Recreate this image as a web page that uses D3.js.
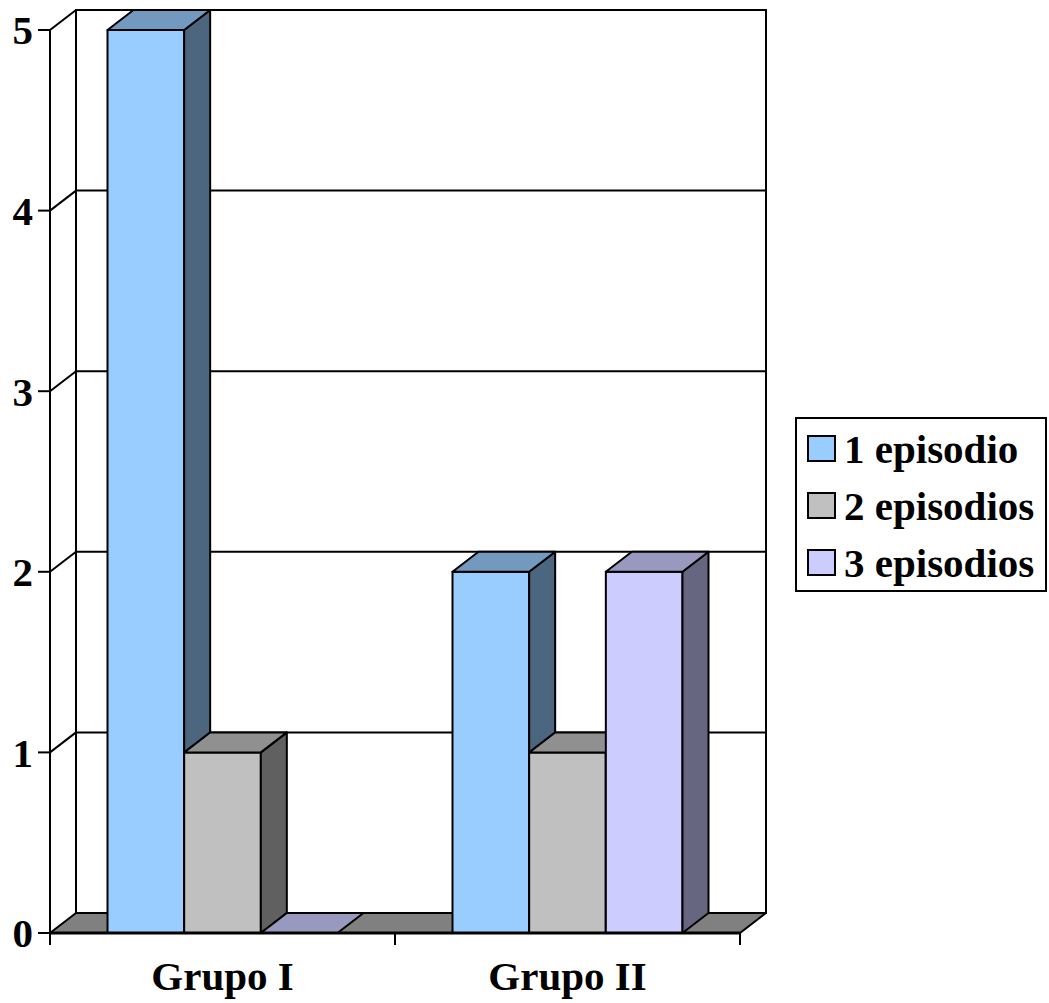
<!DOCTYPE html>
<html>
<head>
<meta charset="utf-8">
<script src="https://cdn.jsdelivr.net/npm/d3@7"></script>
<style>
  body { margin: 0; background: #fff; }
  text { font-family: "Liberation Serif", "Times New Roman", serif; font-weight: bold; fill: #000; }
</style>
</head>
<body>
<div id="chart"></div>
<script>
// data
var groups = ["Grupo I", "Grupo II"];
var seriesNames = ["1 episodio", "2 episodios", "3 episodios"];
var seriesValues = [[5, 2], [1, 1], [0, 2]];   // per series, per group
var yTicks = [0, 1, 2, 3, 4, 5];

// colours: front, top, side
var frontColors = ["#99ccff", "#c0c0c0", "#ccccff"];
var topColors   = ["#7399bf", "#909090", "#9999bf"];
var sideColors  = ["#4d6680", "#606060", "#666680"];

var width = 1049, height = 1003;
var depth = {dx: 26, dy: -20};

var svg = d3.select("#chart").append("svg")
  .attr("width", width)
  .attr("height", height);

// Scales (front plane)
var x = d3.scaleBand()
  .domain(groups)
  .range([50, 740]);

var xInner = d3.scaleBand()
  .domain(d3.range(seriesNames.length))
  .range([0, x.bandwidth()])
  .paddingOuter(0.75)
  .paddingInner(0);

var y = d3.scaleLinear()
  .domain([0, 5])
  .range([933, 30]);

var x0 = x.range()[0], x1 = x.range()[1];

function pts(arr) {
  return arr.map(function(p){ return p[0] + "," + p[1]; }).join(" ");
}

// back wall
svg.append("rect")
  .attr("x", x0 + depth.dx)
  .attr("y", y(5) + depth.dy)
  .attr("width", x1 - x0)
  .attr("height", y(0) - y(5))
  .attr("fill", "#fff")
  .attr("stroke", "#000")
  .attr("stroke-width", 2);

// gridlines (back wall + side wall)
yTicks.forEach(function(t){
  if (t == 0) return;
  svg.append("line")
    .attr("x1", x0 + depth.dx).attr("x2", x1 + depth.dx)
    .attr("y1", y(t) + depth.dy).attr("y2", y(t) + depth.dy)
    .attr("stroke", "#000").attr("stroke-width", 2);
  svg.append("line")
    .attr("x1", x0).attr("x2", x0 + depth.dx)
    .attr("y1", y(t)).attr("y2", y(t) + depth.dy)
    .attr("stroke", "#000").attr("stroke-width", 2);
});

// side wall back edge
svg.append("line")
  .attr("x1", x0 + depth.dx).attr("x2", x0 + depth.dx)
  .attr("y1", y(5) + depth.dy).attr("y2", y(0) + depth.dy)
  .attr("stroke", "#000").attr("stroke-width", 2);

// floor
svg.append("polygon")
  .attr("points", pts([[x0, y(0)], [x1, y(0)], [x1 + depth.dx, y(0) + depth.dy], [x0 + depth.dx, y(0) + depth.dy]]))
  .attr("fill", "#808080")
  .attr("stroke", "#000")
  .attr("stroke-width", 2)
  .attr("stroke-linejoin", "round");

// bars, drawn left to right
groups.forEach(function(g, gi){
  seriesNames.forEach(function(s, si){
    var v = seriesValues[si][gi];
    var bx = x(g) + xInner(si);
    var bw = xInner.bandwidth();
    var yt = y(v), yb = y(0);
    var bar = svg.append("g").attr("class", "bar");

    if (v > 0) {
      bar.append("polygon")
        .attr("points", pts([[bx, yt], [bx + bw, yt], [bx + bw, yb], [bx, yb]]))
        .attr("fill", frontColors[si]);
      bar.append("polygon")
        .attr("points", pts([[bx + bw, yt], [bx + bw + depth.dx, yt + depth.dy], [bx + bw + depth.dx, yb + depth.dy], [bx + bw, yb]]))
        .attr("fill", sideColors[si]);
    }
    bar.append("polygon")
      .attr("points", pts([[bx, yt], [bx + depth.dx, yt + depth.dy], [bx + bw + depth.dx, yt + depth.dy], [bx + bw, yt]]))
      .attr("fill", topColors[si]);

    bar.selectAll("polygon")
      .attr("stroke", "#000")
      .attr("stroke-width", 2)
      .attr("stroke-linejoin", "round");
  });
});

// front value axis
svg.append("line")
  .attr("x1", x0).attr("x2", x0)
  .attr("y1", y(5)).attr("y2", y(0))
  .attr("stroke", "#000").attr("stroke-width", 2);

var yAxis = svg.append("g").attr("class", "y-axis");
yTicks.forEach(function(t){
  yAxis.append("line")
    .attr("x1", x0 - 12).attr("x2", x0)
    .attr("y1", y(t)).attr("y2", y(t))
    .attr("stroke", "#000").attr("stroke-width", 2);
  yAxis.append("text")
    .attr("x", x0 - 17)
    .attr("y", y(t))
    .attr("dy", "0.35em")
    .attr("text-anchor", "end")
    .style("font-size", "41px")
    .text(t);
});

// category axis
svg.append("line")
  .attr("x1", x0).attr("x2", x1)
  .attr("y1", y(0)).attr("y2", y(0))
  .attr("stroke", "#000").attr("stroke-width", 3);

[x0].concat(groups.map(function(g){ return x(g) + x.bandwidth(); })).forEach(function(tx){
  svg.append("line")
    .attr("x1", tx).attr("x2", tx)
    .attr("y1", y(0)).attr("y2", y(0) + 12)
    .attr("stroke", "#000").attr("stroke-width", 2);
});

groups.forEach(function(g){
  svg.append("text")
    .attr("x", x(g) + x.bandwidth() / 2)
    .attr("y", 990)
    .attr("text-anchor", "middle")
    .style("font-size", "41px")
    .text(g);
});

// legend
var legend = svg.append("g").attr("transform", "translate(796,418)");
legend.append("rect")
  .attr("width", 250)
  .attr("height", 173)
  .attr("fill", "#fff")
  .attr("stroke", "#000")
  .attr("stroke-width", 2);

seriesNames.forEach(function(s, i){
  var row = legend.append("g").attr("transform", "translate(0," + (i * 57) + ")");
  row.append("rect")
    .attr("x", 12).attr("y", 18)
    .attr("width", 27).attr("height", 25)
    .attr("fill", frontColors[i])
    .attr("stroke", "#000")
    .attr("stroke-width", 2);
  row.append("text")
    .attr("x", 48)
    .attr("y", 45)
    .style("font-size", "41px")
    .text(s);
});
</script>
</body>
</html>
